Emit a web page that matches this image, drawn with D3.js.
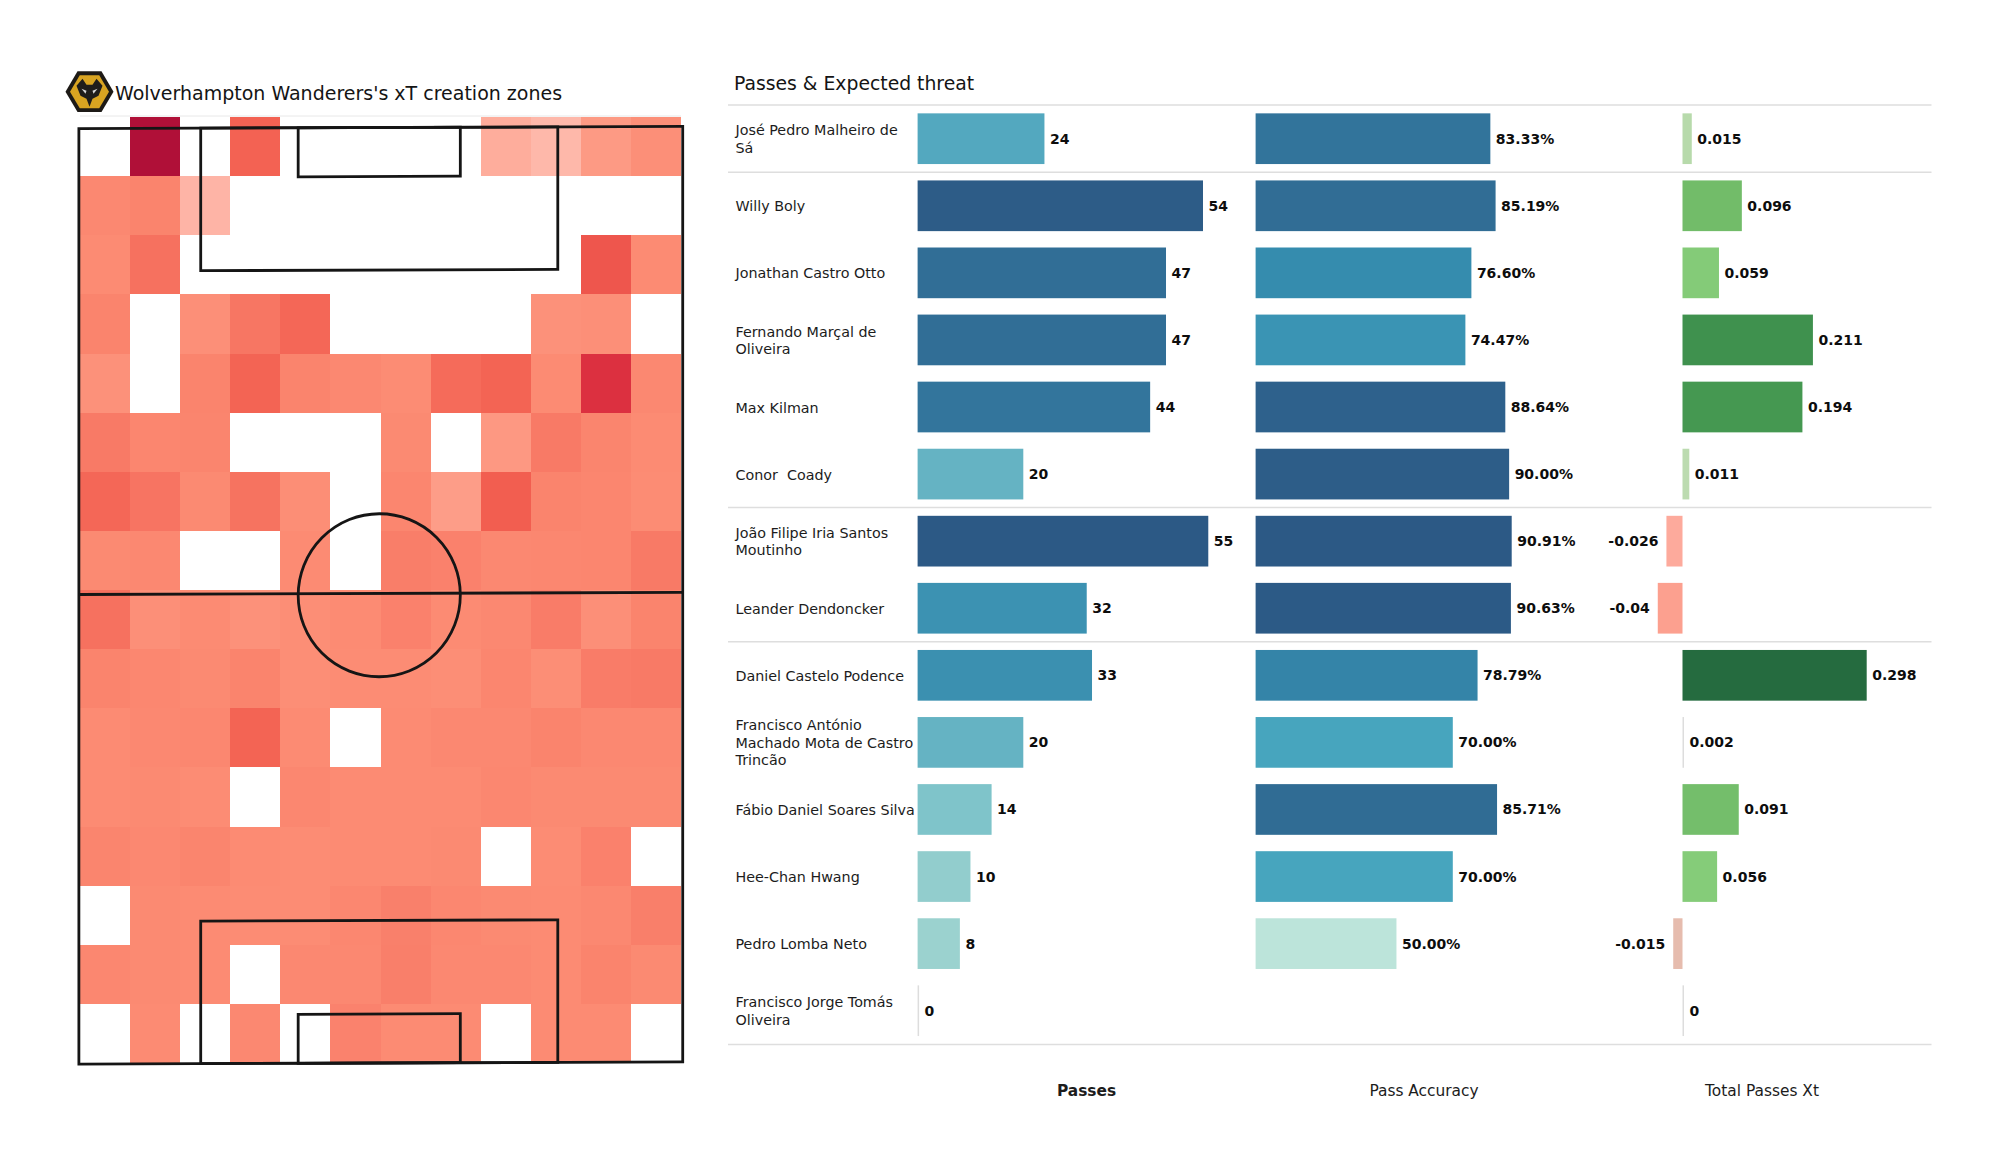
<!DOCTYPE html>
<html><head><meta charset="utf-8">
<script src="https://cdn.jsdelivr.net/npm/d3@7"></script>
<style>
html,body{margin:0;padding:0;background:#fff}
svg{display:block}
text{font-family:"DejaVu Sans",sans-serif;white-space:pre}
</style></head><body>
<svg id="c" width="2000" height="1175"></svg>
<script>
// ---------- data ----------
const names = ["José Pedro Malheiro de\nSá","Willy Boly","Jonathan Castro Otto","Fernando Marçal de\nOliveira","Max Kilman","Conor  Coady","João Filipe Iria Santos\nMoutinho","Leander Dendoncker","Daniel Castelo Podence","Francisco António\nMachado Mota de Castro\nTrincão","Fábio Daniel Soares Silva","Hee-Chan Hwang","Pedro Lomba Neto","Francisco Jorge Tomás\nOliveira"];
const passes = [24,54,47,47,44,20,55,32,33,20,14,10,8,0];
const accuracy = [83.33,85.19,76.60,74.47,88.64,90.00,90.91,90.63,78.79,70.00,85.71,70.00,50.00,null];
const xt = [0.015,0.096,0.059,0.211,0.194,0.011,-0.026,-0.04,0.298,0.002,0.091,0.056,-0.015,0];
const groupEnds = [0,5,7,13];
const headers = ["Passes","Pass Accuracy","Total Passes Xt"];
const N = null;
const zoneRows = [
[N,1.0,N,.63,N,N,N,N,.15,.08,.27,.33],
[.38,.42,.1,N,N,N,N,N,N,N,N,N],
[.36,.55,N,N,N,N,N,N,N,N,.68,.36],
[.42,N,.33,.52,.6,N,N,N,N,.32,.33,N],
[.32,N,.42,.62,.42,.38,.35,.58,.62,.36,.82,.38],
[.5,.4,.41,N,N,N,.37,N,.28,.5,.41,.36],
[.6,.53,.37,.54,.34,N,.4,.25,.65,.42,.4,.35],
[.37,.38,N,N,.36,N,.47,.44,.38,.39,.4,.5],
[.55,.33,.36,.32,.34,.36,.44,.36,.38,.48,.33,.42],
[.42,.39,.37,.42,.34,.35,.35,.34,.4,.34,.48,.5],
[.36,.38,.39,.62,.36,N,.36,.38,.38,.42,.38,.38],
[.36,.37,.35,N,.39,.36,.36,.36,.39,.37,.37,.37],
[.41,.38,.41,.36,.35,.36,.36,.37,N,.35,.44,N],
[N,.37,.36,.35,.35,.39,.45,.39,.37,.36,.38,.46],
[.39,.37,.36,N,.38,.38,.46,.38,.38,.36,.42,.37],
[N,.36,N,.38,N,.43,.36,.36,N,.36,.36,N]
];
const zoneStops = [0,.25,.35,.5,.65,.82,1];
const zoneColors = ["#ffc4ba","#fd9d88","#fc8c74","#f87a66","#f25e50","#dc3040","#b01038"];

// ---------- scales ----------
const svg = d3.select("#c");
const zone = d3.scaleLinear().domain(zoneStops).range(zoneColors);
const cellX = d3.scaleBand().domain(d3.range(12)).range([80,681]);
const cellY = d3.scaleBand().domain(d3.range(16)).range([117,1063]);
const px = d3.scaleLinear().domain([0,68]).range([78,680.5]);
const py = d3.scaleLinear().domain([0,105]).range([127.5,1063]);
const rowY = d3.scaleLinear().domain([0,13]).range([138.7,1010.7]);
const barH = 50.7;
const xP = d3.scaleLinear().domain([0,54]).range([917.6,1203]);
const xA = d3.scaleLinear().domain([0,90.91]).range([1255.6,1511.7]);
const xX = d3.scaleLinear().domain([0,0.298]).range([1682.5,1866.7]);
const cP = d3.scaleLinear().domain([0,8,14,24,32,47,55]).range(["#dddddd","#9bd2cf","#7fc4ca","#53a8bf","#3c92b2","#316e96","#2c5985"]);
const cA = d3.scaleLinear().domain([50,62,70,76,85,91]).range(["#bce4da","#7fc4ca","#47a5be","#358eb0","#316e96","#2c5985"]);
const cX = d3.scaleLinear().domain([-.04,-.026,-.015,0,.002,.011,.056,.096,.2,.298]).range(["#fca08f","#fdaa9c","#e6bcae","#dddddd","#dddddd","#bcdbb0","#85cc79","#72bc69","#429650","#256b3f"]);

// ---------- heat map ----------
const cells = zoneRows.flatMap((r,i)=>r.map((v,j)=>({i,j,v}))).filter(d=>d.v!==null);
svg.append("line").attr("x1",cellX.range()[0]).attr("x2",cellX.range()[1]).attr("y1",116).attr("y2",116).attr("stroke","#e8e8e8").attr("stroke-width",1);
svg.append("g").attr("shape-rendering","crispEdges").selectAll("rect").data(cells).join("rect")
  .attr("x",d=>cellX(d.j)).attr("y",d=>cellY(d.i))
  .attr("width",cellX.bandwidth()).attr("height",cellY.bandwidth())
  .attr("fill",d=>zone(d.v));

// ---------- pitch ----------
const pitch = svg.append("g").attr("fill","none").attr("stroke","#151515").attr("stroke-width",2.8)
  .attr("transform",`translate(0 ${px(34)*Math.tan(0.2*Math.PI/180)}) skewY(-0.2)`);
const box = (a,b,c,d)=>pitch.append("rect").attr("x",px(a)).attr("y",py(c)).attr("width",px(b)-px(a)).attr("height",py(d)-py(c));
box(0.1,68.25,0,105);
box(13.85,54.15,0,16);
box(24.85,43.15,0,5.5);
box(13.85,54.15,89,105);
box(24.85,43.15,99.5,105);
pitch.append("line").attr("x1",px(0.1)).attr("x2",px(68.25)).attr("y1",py(52.3)).attr("y2",py(52.3));
pitch.append("ellipse").attr("cx",px(34)).attr("cy",py(52.5)).attr("rx",px(9.15)-px(0)).attr("ry",py(9.15)-py(0));

// ---------- badge ----------
const badge = svg.append("g").attr("transform","translate(89.5,91.7)");
const hex = r=>d3.range(6).map(k=>{const a=k*Math.PI/3;return [r*Math.cos(a),r*Math.sin(a)*0.98];});
const poly = d3.line().curve(d3.curveLinearClosed);
badge.append("path").attr("d",poly(hex(24))).attr("fill","#1d1a16");
badge.append("path").attr("d",poly(hex(19.5))).attr("fill","#d9a421");
badge.append("path").attr("d",poly([[-13,-6],[-7,-13],[-3,-7],[3,-7],[7,-13],[13,-6],[9,4],[3,7],[0,15],[-3,7],[-9,4]])).attr("fill","#1f1d1b");
badge.append("path").attr("d",poly([[-8,-3],[-3,-1],[-4,2]])).attr("fill","#d8d8d8");
badge.append("path").attr("d",poly([[8,-3],[3,-1],[4,2]])).attr("fill","#d8d8d8");

// ---------- titles ----------
svg.append("text").attr("x",115).attr("y",100).attr("font-size",19).attr("fill","#141414").text("Wolverhampton Wanderers's xT creation zones");
svg.append("text").attr("x",734).attr("y",89.5).attr("font-size",18.8).attr("fill","#141414").text("Passes & Expected threat");

// ---------- separators ----------
const sep = [105].concat(groupEnds.map(k=>(rowY(k)+rowY(k+1))/2));
sep[sep.length-1] = 1044.5;
svg.append("g").selectAll("line").data(sep).join("line")
  .attr("x1",728).attr("x2",1931.5).attr("y1",d=>d).attr("y2",d=>d)
  .attr("stroke","#dedede").attr("stroke-width",1.5);

// ---------- names ----------
const nm = svg.append("g").selectAll("text").data(names).join("text")
  .attr("font-size",14.3).attr("fill","#1c1c1c");
nm.each(function(d,i){
  const parts = d.split("\n");
  d3.select(this).selectAll("tspan").data(parts).join("tspan")
    .attr("x",735.5)
    .attr("y",(p,k)=>rowY(i)+5.5+(k-(parts.length-1)/2)*17.6)
    .text(p=>p);
});

// ---------- bars ----------
function panel(vals,x,color,fmt,zeroMin){
  const data = vals.map((v,i)=>({v,i})).filter(d=>d.v!==null);
  const g = svg.append("g");
  g.selectAll("rect").data(data).join("rect")
    .attr("x",d=>Math.min(x(d.v),x(0)))
    .attr("y",d=>rowY(d.i)-barH/2)
    .attr("width",d=>Math.max(Math.abs(x(d.v)-x(0)),zeroMin))
    .attr("height",barH)
    .attr("fill",d=>color(d.v));
  g.selectAll("text").data(data).join("text")
    .attr("x",d=>d.v<0 ? x(d.v)-8 : Math.max(x(d.v),x(0)+1.5)+5.5)
    .attr("y",d=>rowY(d.i)+5)
    .attr("text-anchor",d=>d.v<0?"end":"start")
    .attr("font-size",14).attr("font-weight","bold").attr("fill","#0d0d0d")
    .text(d=>fmt(d.v));
}
panel(passes,xP,cP,String,1.5);
panel(accuracy,xA,cA,v=>d3.format(".2f")(v)+"%",1.5);
panel(xt,xX,cX,String,1.5);

// ---------- column headers ----------
const headX = [1086.5,1424,1762];
svg.append("g").selectAll("text").data(headers).join("text")
  .attr("x",(d,i)=>headX[i]).attr("y",1096).attr("text-anchor","middle")
  .attr("font-size",15.4).attr("fill","#1c1c1c")
  .attr("font-weight",(d,i)=>i===0?"bold":"normal").text(d=>d);
</script>
</body></html>
